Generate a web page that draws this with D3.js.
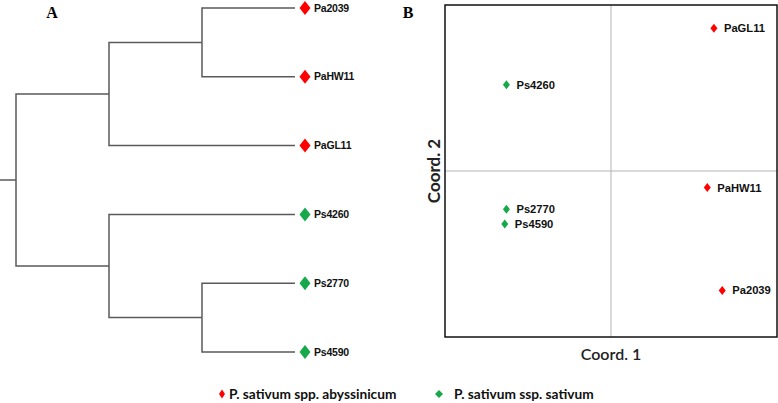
<!DOCTYPE html>
<html>
<head>
<meta charset="utf-8">
<script src="https://cdn.jsdelivr.net/npm/d3@7"></script>
<style>
  body { margin: 0; background: #fff; }
  svg { display: block; }
</style>
</head>
<body>
<div id="chart"></div>
<script>
// ---- data ----
// dendrogram topology (UPGMA clusters)
const tree = [[["Pa2039", "PaHW11"], "PaGL11"], ["Ps4260", ["Ps2770", "Ps4590"]]];
const abyssinicumSet = ["Pa2039", "PaHW11", "PaGL11"];

// PCoA coordinates
const pcoNames = ["PaGL11", "Ps4260", "PaHW11", "Ps2770", "Ps4590", "Pa2039"];
const coord1 = [0.62, -0.63, 0.58, -0.63, -0.64, 0.67];
const coord2 = [0.86, 0.52, -0.10, -0.23, -0.32, -0.72];

const groupLabels = ["P. sativum spp. abyssinicum", "P. sativum ssp. sativum"];
const groupColors = ["#ff0000", "#16a84a"];

const width = 778, height = 403;

const svg = d3.select("#chart").append("svg")
  .attr("width", width)
  .attr("height", height);

const colorOf = name => abyssinicumSet.includes(name) ? groupColors[0] : groupColors[1];

// diamond path, w wide, h tall
function diamond(w, h) {
  return `M0,${-h / 2}L${w / 2},0L0,${h / 2}L${-w / 2},0Z`;
}

// ---- panel A: dendrogram ----
const root = d3.hierarchy(tree, d => Array.isArray(d) ? d : null);
d3.cluster().nodeSize([1, 1]).separation(() => 1)(root);
const leaves = root.leaves();

const dx = d3.scaleLinear().domain([0, root.height]).range([16, 295]);
const dy = d3.scaleLinear().domain(d3.extent(leaves, d => d.x)).range([8, 352]);

const gA = svg.append("g");

gA.append("text")
  .attr("x", 52).attr("y", 18)
  .attr("text-anchor", "middle")
  .style("font-family", "Liberation Serif, Times New Roman, serif")
  .style("font-weight", "bold")
  .style("font-size", "16px")
  .text("A");

gA.selectAll("path.link")
  .data(root.links())
  .enter().append("path")
  .attr("class", "link")
  .attr("fill", "none")
  .attr("stroke", "#5a5a5a")
  .attr("stroke-width", 1.5)
  .attr("d", d => `M${dx(d.source.y)},${dy(d.source.x)}V${dy(d.target.x)}H${dx(d.target.y)}`);

// root stub
gA.append("line")
  .attr("x1", 0).attr("x2", dx(root.y))
  .attr("y1", dy(root.x)).attr("y2", dy(root.x))
  .attr("stroke", "#5a5a5a")
  .attr("stroke-width", 1.5);

const leafG = gA.selectAll("g.leaf")
  .data(leaves)
  .enter().append("g")
  .attr("class", "leaf")
  .attr("transform", d => `translate(${dx(d.y) + 10},${dy(d.x)})`);

leafG.append("path")
  .attr("d", diamond(11, 14))
  .attr("fill", d => colorOf(d.data));

leafG.append("text")
  .attr("x", 9)
  .attr("dy", "0.35em")
  .style("font-family", "Liberation Sans, Arial, sans-serif")
  .style("font-weight", "bold")
  .style("font-size", "10.5px")
  .style("letter-spacing", "-0.2px")
  .style("fill", "#111")
  .text(d => d.data);

// ---- panel B: PCoA ----
const box = { left: 445, right: 777, top: 5, bottom: 337 };
const px = d3.scaleLinear().domain([-1, 1]).range([box.left, box.right]);
const py = d3.scaleLinear().domain([-1, 1]).range([box.bottom, box.top]);

const gB = svg.append("g");

gB.append("text")
  .attr("x", 408).attr("y", 18)
  .attr("text-anchor", "middle")
  .style("font-family", "Liberation Serif, Times New Roman, serif")
  .style("font-weight", "bold")
  .style("font-size", "16px")
  .text("B");

// zero lines
gB.append("line")
  .attr("x1", px(0)).attr("x2", px(0))
  .attr("y1", box.top).attr("y2", box.bottom)
  .attr("stroke", "#b4b4b4").attr("stroke-width", 1);
gB.append("line")
  .attr("x1", box.left).attr("x2", box.right)
  .attr("y1", py(0)).attr("y2", py(0))
  .attr("stroke", "#b4b4b4").attr("stroke-width", 1);

gB.append("rect")
  .attr("x", box.left).attr("y", box.top)
  .attr("width", box.right - box.left)
  .attr("height", box.bottom - box.top)
  .attr("fill", "none")
  .attr("stroke", "#111")
  .attr("stroke-width", 1.5);

const pts = pcoNames.map((n, i) => ({ name: n, x: coord1[i], y: coord2[i] }));

const ptG = gB.selectAll("g.pt")
  .data(pts)
  .enter().append("g")
  .attr("class", "pt")
  .attr("transform", d => `translate(${px(d.x)},${py(d.y)})`);

ptG.append("path")
  .attr("d", diamond(7, 9))
  .attr("fill", d => colorOf(d.name));

ptG.append("text")
  .attr("x", 10)
  .attr("dy", "0.35em")
  .style("font-family", "Liberation Sans, Arial, sans-serif")
  .style("font-weight", "bold")
  .style("font-size", "11.2px")
  .style("fill", "#111")
  .text(d => d.name);

gB.append("text")
  .attr("x", px(0)).attr("y", 360)
  .attr("text-anchor", "middle")
  .style("font-family", "Lato, sans-serif")
  .style("font-weight", "600")
  .style("font-size", "16px")
  .style("fill", "#222")
  .text("Coord. 1");

gB.append("text")
  .attr("transform", `translate(440,${py(0)}) rotate(-90)`)
  .attr("text-anchor", "middle")
  .style("font-family", "Lato, sans-serif")
  .style("font-weight", "bold")
  .style("font-size", "17px")
  .style("fill", "#222")
  .text("Coord. 2");

// ---- legend ----
const legendX = [222, 439];
const legG = svg.selectAll("g.legend")
  .data(groupLabels)
  .enter().append("g")
  .attr("class", "legend")
  .attr("transform", (d, i) => `translate(${legendX[i]},394)`);

legG.append("path")
  .attr("d", (d, i) => i === 0 ? diamond(6, 9) : diamond(8, 8))
  .attr("fill", (d, i) => groupColors[i]);

legG.append("text")
  .attr("x", (d, i) => i === 0 ? 7 : 15)
  .attr("dy", "0.35em")
  .style("font-family", "Lato, sans-serif")
  .style("font-weight", "bold")
  .style("font-size", "13.7px")
  .style("fill", "#111")
  .text(d => d);
</script>
</body>
</html>
